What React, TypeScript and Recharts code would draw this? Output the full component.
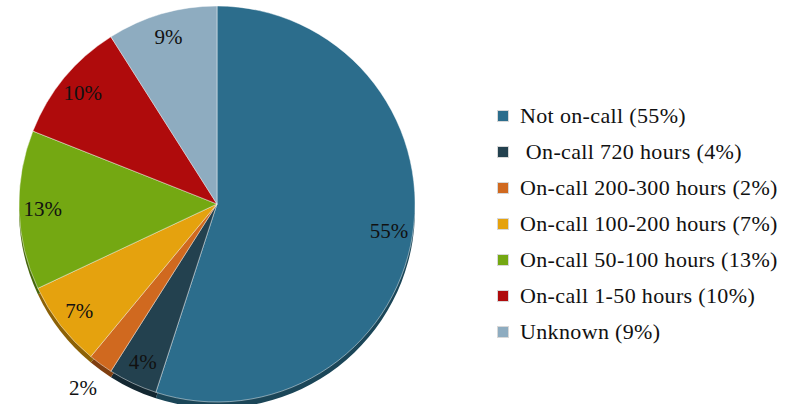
import React from 'react';
import { PieChart, Pie, Cell, Legend } from 'recharts';

const categories = [
  'Not on-call',
  ' On-call 720 hours',
  'On-call 200-300 hours',
  'On-call 100-200 hours',
  'On-call 50-100 hours',
  'On-call 1-50 hours',
  'Unknown',
];
const shares = [55, 4, 2, 7, 13, 10, 9];

const colors = ['#2C6D8C', '#23414F', '#D0691F', '#E5A20E', '#74A812', '#AF0B0C', '#8EACC0'];
const rimColors = ['#1B4658', '#132731', '#7F3E10', '#8C6106', '#45660A', '#6A0606', '#5A7282'];

const data = categories.map((name, i) => ({ name, value: shares[i] }));

const FONT = "'Times New Roman', 'Liberation Serif', 'DejaVu Serif', 'Noto Serif', serif";
const RAD = Math.PI / 180;

const renderLabel = (props: any) => {
  const { cx, cy, midAngle, outerRadius, value } = props;
  // the tiny slice gets its label outside the pie
  const r = value < 3 ? outerRadius + 30 : outerRadius * 0.88;
  const x = cx + r * Math.cos(-midAngle * RAD);
  const y = cy + r * Math.sin(-midAngle * RAD);
  return (
    <text
      x={x}
      y={y}
      fill="#111"
      textAnchor="middle"
      dominantBaseline="central"
      fontFamily={FONT}
      fontSize={21}
    >
      {`${value}%`}
    </text>
  );
};

const LegendList = () => (
  <div style={{ fontFamily: FONT, fontSize: 22, letterSpacing: 0.35, color: '#111' }}>
    {data.map((d, i) => (
      <div key={i} style={{ height: 36, display: 'flex', alignItems: 'center' }}>
        <span
          style={{
            width: 10,
            height: 10,
            background: colors[i],
            border: '1px solid #d8d8d8',
            marginRight: 11,
            flexShrink: 0,
          }}
        />
        <span style={{ whiteSpace: 'pre' }}>{`${d.name} (${d.value}%)`}</span>
      </div>
    ))}
  </div>
);

export default function App() {
  return (
    <div style={{ position: 'absolute', left: 0, top: 0, background: '#fff' }}>
      <PieChart width={792} height={404}>
        <Pie
          data={data}
          dataKey="value"
          cx={212}
          cy={205}
          outerRadius={198}
          startAngle={90}
          endAngle={-270}
          stroke="none"
          isAnimationActive={false}
          legendType="none"
        >
          {data.map((d, i) => (
            <Cell key={i} fill={rimColors[i]} />
          ))}
        </Pie>
        <Pie
          data={data}
          dataKey="value"
          cx={212}
          cy={199}
          outerRadius={198}
          startAngle={90}
          endAngle={-270}
          stroke="rgba(255,255,255,0.45)"
          strokeWidth={1}
          label={renderLabel}
          labelLine={false}
          isAnimationActive={false}
        >
          {data.map((d, i) => (
            <Cell key={i} fill={colors[i]} />
          ))}
        </Pie>
        <Legend
          layout="vertical"
          content={<LegendList />}
          wrapperStyle={{ left: 497, top: 98, width: 295 }}
        />
      </PieChart>
    </div>
  );
}
